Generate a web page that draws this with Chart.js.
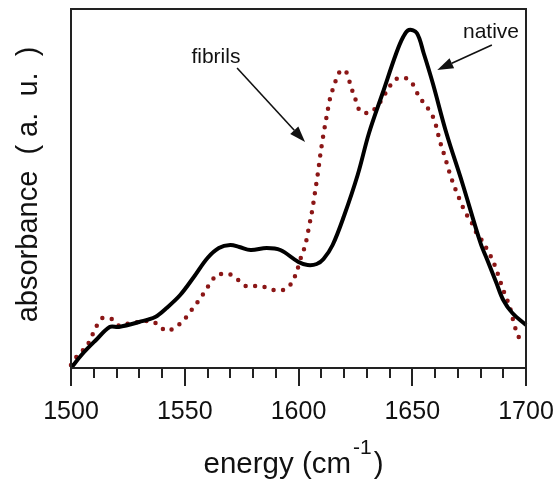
<!DOCTYPE html>
<html>
<head>
<meta charset="utf-8">
<title>absorbance</title>
<script src="https://cdn.jsdelivr.net/npm/chart.js"></script>
<style>
    html, body { margin: 0; padding: 0; background: #fff; }
    .chart-container { width: 559px; height: 488px; }
</style>
</head>
<body>
<div class="chart-container">
    <canvas id="spectrum"></canvas>
</div>
<script>
// 값은 그림에서 읽은 것 (y는 상대값, 축 바닥 = 0)
const nativeEnergy = [1500, 1505, 1511, 1517, 1521, 1530, 1537, 1542, 1548, 1554, 1560, 1565, 1570, 1574, 1579, 1586, 1592, 1600, 1604, 1608, 1611, 1615, 1620, 1626, 1631, 1637, 1643, 1646, 1648.5, 1652, 1655, 1659, 1665, 1672, 1680, 1683, 1687, 1690, 1694, 1700];
const nativeAbs    = [0, 14, 28, 41, 41, 46, 51, 60, 73, 91, 110, 120, 123, 121, 118, 120, 118, 106, 103, 104, 109, 123, 152, 193, 235, 275, 315, 331, 338, 335, 315, 285, 235, 185, 125, 108, 85, 68, 55, 43];

const fibrilEnergy = [1500, 1503, 1507, 1509, 1511, 1514, 1518, 1521.5, 1526, 1530, 1534, 1538, 1542, 1546, 1550, 1553, 1556, 1559, 1561.5, 1565, 1569, 1573, 1577, 1581, 1585, 1589, 1593, 1597, 1599, 1601.4, 1603, 1604.6, 1606.2, 1607.4, 1608.6, 1609.7, 1611, 1612.4, 1614, 1615.3, 1616.8, 1619, 1621.5, 1622.6, 1624, 1625.3, 1627, 1630.7, 1634.7, 1637.3, 1639.6, 1642.9, 1646.8, 1650.5, 1652.4, 1655, 1658, 1660, 1662, 1664.5, 1667, 1670, 1673.5, 1676, 1678, 1680.5, 1683, 1685.5, 1687, 1688.5, 1690, 1693, 1695, 1697];
const fibrilAbs    = [3, 13, 22, 31, 41, 50, 49, 42, 45, 46, 47, 44, 37, 41, 49, 58, 67, 77, 86, 94, 94, 89, 82, 82, 81, 78, 78, 85, 95, 113, 123, 141, 160, 178, 196, 215, 234, 252, 271, 280, 290, 298, 294, 285, 275, 267, 257, 255, 262, 271, 280, 289, 290, 283, 274, 265, 256, 246, 228, 210, 191, 173, 155, 146, 136, 128, 118, 107, 98, 88, 78, 60, 42, 30];

const majorTicks = [1500, 1550, 1600, 1650, 1700];
const minorStep = 10;

// 주석 (데이터 좌표)
const labels = [
    { text: 'fibrils', x: 1563.7, y: 305, from: [1573, 300], to: [1602.9, 226] },
    { text: 'native',  x: 1684.6, y: 330, from: [1685, 323], to: [1661, 298] }
];

const FONT = 'Arial, "Liberation Sans", sans-serif';

const framePlugin = {
    id: 'frame',
    afterDraw(chart) {
        const { ctx, chartArea: a, scales: { x, y } } = chart;
        ctx.save();
        ctx.strokeStyle = '#222';
        ctx.lineWidth = 2;
        ctx.strokeRect(a.left, a.top, a.right - a.left, a.bottom - a.top);

        // 눈금 (바깥쪽)
        ctx.beginPath();
        for (let v = x.min; v <= x.max; v += minorStep) {
            const px = Math.round(x.getPixelForValue(v));
            const len = majorTicks.includes(v) ? 18 : 10;
            ctx.moveTo(px, a.bottom);
            ctx.lineTo(px, a.bottom + len);
        }
        ctx.stroke();

        // x축 제목 (위첨자 포함)
        const cx = (a.left + a.right) / 2 - 5;
        const base = 473;
        const gap = 2;
        ctx.fillStyle = '#111';
        ctx.textBaseline = 'alphabetic';
        ctx.textAlign = 'left';
        const t1 = 'energy (cm', t2 = '-1', t3 = ')';
        ctx.font = '21px ' + FONT;
        const w2 = ctx.measureText(t2).width;
        ctx.font = '29.5px ' + FONT;
        const w1 = ctx.measureText(t1).width, w3 = ctx.measureText(t3).width;
        const sx = cx - (w1 + w2 + w3 + 2 * gap) / 2;
        ctx.fillText(t1, sx, base);
        ctx.fillText(t3, sx + w1 + w2 + 2 * gap, base);
        ctx.font = '21px ' + FONT;
        ctx.fillText(t2, sx + w1 + gap, base - 19);

        // 화살표와 라벨
        ctx.font = '21px ' + FONT;
        ctx.textAlign = 'center';
        ctx.lineWidth = 1.6;
        ctx.strokeStyle = '#111';
        labels.forEach(l => {
            ctx.fillText(l.text, x.getPixelForValue(l.x), y.getPixelForValue(l.y));
            const x0 = x.getPixelForValue(l.from[0]), y0 = y.getPixelForValue(l.from[1]);
            const x1 = x.getPixelForValue(l.to[0]), y1 = y.getPixelForValue(l.to[1]);
            const ang = Math.atan2(y1 - y0, x1 - x0);
            const hl = 16, hw = 5.5;
            const bx = x1 - hl * Math.cos(ang), by = y1 - hl * Math.sin(ang);
            ctx.beginPath();
            ctx.moveTo(x0, y0);
            ctx.lineTo(bx, by);
            ctx.stroke();
            ctx.beginPath();
            ctx.moveTo(x1, y1);
            ctx.lineTo(bx + hw * Math.sin(ang), by - hw * Math.cos(ang));
            ctx.lineTo(bx - hw * Math.sin(ang), by + hw * Math.cos(ang));
            ctx.closePath();
            ctx.fill();
        });
        ctx.restore();
    }
};

new Chart(document.getElementById('spectrum'), {
    type: 'line',
    data: {
        datasets: [
            {
                label: 'native',
                data: nativeEnergy.map((e, i) => ({ x: e, y: nativeAbs[i] })),
                borderColor: '#000',
                borderWidth: 4,
                pointRadius: 0,
                tension: 0.35,
                clip: false
            },
            {
                label: 'fibrils',
                data: fibrilEnergy.map((e, i) => ({ x: e, y: fibrilAbs[i] })),
                borderColor: '#8b1616',
                borderWidth: 4.5,
                borderDash: [0, 9.5],
                borderCapStyle: 'round',
                pointRadius: 0,
                cubicInterpolationMode: 'monotone',
                clip: false
            }
        ]
    },
    options: {
        responsive: true,
        maintainAspectRatio: false,
        animation: false,
        layout: { padding: { top: 9, right: 33, left: 0, bottom: 0 } },
        plugins: {
            legend: { display: false },
            tooltip: { enabled: false }
        },
        scales: {
            x: {
                type: 'linear',
                min: 1500,
                max: 1700,
                grid: { display: false, drawTicks: false },
                border: { display: false },
                afterFit: s => {
                    s.height = 120;
                    s.paddingLeft = 0;
                    s.paddingRight = 0;
                },
                ticks: {
                    stepSize: minorStep,
                    autoSkip: false,
                    maxRotation: 0,
                    padding: 29,
                    color: '#111',
                    font: { size: 25, family: FONT },
                    callback: v => majorTicks.includes(v) ? String(v) : ''
                }
            },
            y: {
                min: 0,
                max: 359,
                grid: { display: false, drawTicks: false },
                border: { display: false },
                ticks: { display: false },
                afterFit: s => { s.width = 71; },
                title: {
                    display: true,
                    text: ' absorbance  ( a.  u.  )',
                    color: '#111',
                    padding: { top: 12 },
                    font: { size: 29, family: FONT }
                }
            }
        }
    },
    plugins: [framePlugin]
});
</script>
</body>
</html>
